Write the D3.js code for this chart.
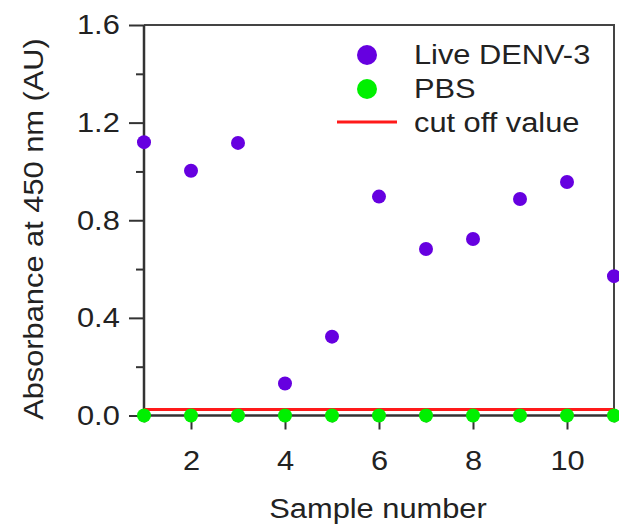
<!DOCTYPE html>
<html>
<head>
<meta charset="utf-8">
<script src="https://cdn.jsdelivr.net/npm/d3@7"></script>
<style>
  html, body { margin: 0; padding: 0; background: #fff; }
  svg text { font-family: "Liberation Sans", Arial, sans-serif; fill: #222; }
</style>
</head>
<body>
<div id="chart"></div>
<script>
/* ── absorbance scatter: Live DENV-3 vs PBS ─────────────────── */

const samples   = [1, 2, 3, 4, 5, 6, 7, 8, 9, 10, 11];
const denvVals  = [1.12, 1.003, 1.117, 0.131, 0.323, 0.897, 0.682, 0.723, 0.887, 0.957, 0.571];
const pbsVals   = [0, 0, 0, 0, 0, 0, 0, 0, 0, 0, 0];
const cutOff    = 0.025;
const yTicks    = [0, 0.4, 0.8, 1.2, 1.6];
const yMinor    = [0.2, 0.6, 1.0, 1.4];
const xTicks    = [2, 4, 6, 8, 10];
const xMinor    = [1, 3, 5, 7, 9, 11];
const legendItems = ['Live DENV-3', 'PBS', 'cut off value'];

const PURPLE = '#6600e0', GREEN = '#00f000', RED = '#ff1a1a', AXIS = '#333';

// ── layout ───────────────────────────────────────────────────
const W = 619, H = 525;
const L = 144, R = 614, T = 25, B = 415.5;
const FS = 28;
const SX = 1.1;   // glyphs in the original are a bit wider than Arial

const svg = d3.select('#chart').append('svg').attr('width', W).attr('height', H);

const x = d3.scaleLinear().domain([1, 11]).range([L, R]);
const y = d3.scaleLinear().domain([0, 1.6]).range([B, T]);

// wide text helper: put text at (tx,ty) and stretch it along its run
function wideText(g, tx, ty, str, anchor, rot) {
  return g.append('text')
    .attr('transform', `translate(${tx},${ty})${rot ? ` rotate(${rot})` : ''} scale(${SX},1)`)
    .attr('text-anchor', anchor).attr('font-size', FS).text(str);
}

// frame (top + right)
svg.append('path')
  .attr('d', `M${L},${T}H${R}V${B}`)
  .attr('fill', 'none').attr('stroke', '#444').attr('stroke-width', 2);

// y axis
const yAxisG = svg.append('g').attr('transform', `translate(${L},0)`)
  .call(d3.axisLeft(y).tickValues(yTicks).tickSize(15).tickPadding(7)
    .tickFormat(d3.format('.1f')));
yAxisG.append('g')
  .call(d3.axisLeft(y).tickValues(yMinor).tickSize(8).tickFormat(''))
  .select('.domain').remove();

// x axis
const xAxisG = svg.append('g').attr('transform', `translate(0,${B})`)
  .call(d3.axisBottom(x).tickValues(xTicks).tickSize(14).tickPadding(21)
    .tickFormat(d3.format('d')));
xAxisG.append('g')
  .call(d3.axisBottom(x).tickValues(xMinor).tickSize(7).tickFormat(''))
  .select('.domain').remove();

[yAxisG, xAxisG].forEach(g => {
  g.selectAll('.domain').attr('stroke', AXIS).attr('stroke-width', 2.5);
  g.selectAll('.tick line').attr('stroke', AXIS).attr('stroke-width', 2);
  g.selectAll('.tick text').attr('font-size', FS).attr('fill', '#222')
    .attr('transform', `scale(${SX},1)`)
    .style('font-family', '"Liberation Sans", Arial, sans-serif');
});
yAxisG.select('.domain').attr('d', `M0,${B}V${T}`);
xAxisG.select('.domain').attr('d', `M${L},0H${R}`);

// axis labels
wideText(svg, 43, 229, 'Absorbance at 450 nm (AU)', 'middle', -90);
wideText(svg, 378, 518, 'Sample number', 'middle');

// cut-off line
svg.append('line')
  .attr('x1', x(1)).attr('x2', x(11))
  .attr('y1', y(cutOff)).attr('y2', y(cutOff))
  .attr('stroke', RED).attr('stroke-width', 3);

// points
svg.append('g').selectAll('circle').data(samples).join('circle')
  .attr('cx', d => x(d)).attr('cy', (d, i) => y(pbsVals[i]))
  .attr('r', 7).attr('fill', GREEN);

svg.append('g').selectAll('circle').data(samples).join('circle')
  .attr('cx', d => x(d)).attr('cy', (d, i) => y(denvVals[i]))
  .attr('r', 7).attr('fill', PURPLE);

// ── legend ───────────────────────────────────────────────────
const lg = svg.append('g');
const LX = 367, LT = 64, LS = 34;
legendItems.forEach((name, i) => {
  const base = LT + i * LS;
  const cy = base - 9;
  if (i < 2) {
    lg.append('circle').attr('cx', LX).attr('cy', cy).attr('r', 10)
      .attr('fill', i === 0 ? PURPLE : GREEN);
  } else {
    lg.append('line').attr('x1', LX - 30).attr('x2', LX + 30)
      .attr('y1', cy - 1).attr('y2', cy - 1)
      .attr('stroke', RED).attr('stroke-width', 3);
  }
  wideText(lg, 414, base, name, 'start');
});
</script>
</body>
</html>
